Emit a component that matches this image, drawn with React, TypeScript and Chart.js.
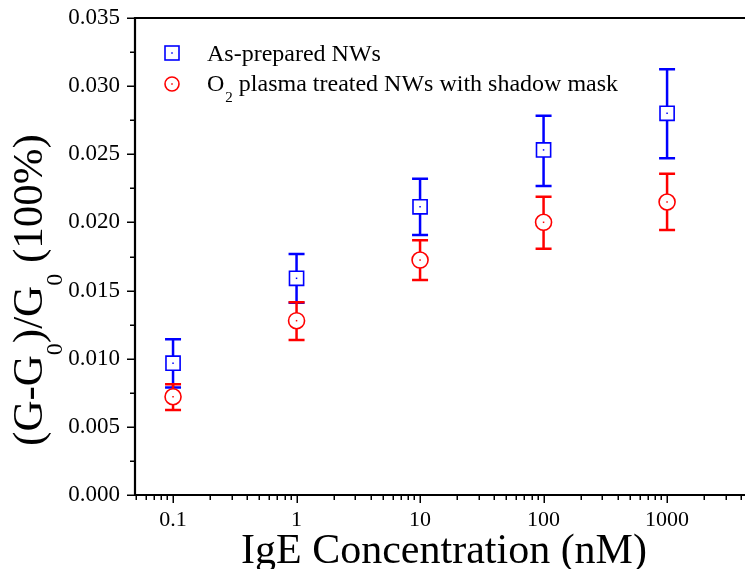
import React, { useEffect, useRef } from "react";
import { Chart, registerables } from "chart.js";

Chart.register(...registerables);

// ---- data ----
const concentrations = [0.1, 1, 10, 100, 1000];

const asPreparedLabel = "As-prepared NWs";
const asPrepared = [0.00967, 0.0159, 0.02115, 0.02532, 0.02801];
const asPreparedHigh = [0.01143, 0.01768, 0.0232, 0.02783, 0.03124];
const asPreparedLow = [0.00788, 0.01411, 0.01908, 0.02267, 0.02471];

const plasmaLabelMain = "O";
const plasmaLabelSub = "2";
const plasmaLabelRest = " plasma treated NWs with shadow mask";
const plasma = [0.00721, 0.01279, 0.01724, 0.02001, 0.0215];
const plasmaHigh = [0.00812, 0.01414, 0.01869, 0.02189, 0.02358];
const plasmaLow = [0.00624, 0.01137, 0.01578, 0.01807, 0.01945];

const xTickValues = [0.1, 1, 10, 100, 1000];
const xMin = 0.0492;
const xMax = 4275;
const yMin = 0;
const yMax = 0.035;
const yStep = 0.005;
const yMinorStep = 0.0025;

const xTitle = "IgE Concentration (nM)";
const yTitleParts: { t: string; sub: boolean }[] = [
  { t: "(G-G", sub: false },
  { t: "0", sub: true },
  { t: ")/G", sub: false },
  { t: "0", sub: true },
  { t: " (100%)", sub: false },
];

const BLUE = "#0000ff";
const RED = "#ff0000";
const FONT = "'Liberation Serif', 'Times New Roman', serif";

function drawErrorBars(chart: any, xs: number[], lo: number[], hi: number[], color: string) {
  const ctx = chart.ctx;
  const xs_ = chart.scales.x;
  const ys_ = chart.scales.y;
  ctx.save();
  ctx.strokeStyle = color;
  ctx.lineWidth = 2.5;
  const cap = 8;
  for (let i = 0; i < xs.length; i++) {
    const px = xs_.getPixelForValue(xs[i]);
    const pyL = ys_.getPixelForValue(lo[i]);
    const pyH = ys_.getPixelForValue(hi[i]);
    ctx.beginPath();
    ctx.moveTo(px, pyL);
    ctx.lineTo(px, pyH);
    ctx.moveTo(px - cap, pyL);
    ctx.lineTo(px + cap, pyL);
    ctx.moveTo(px - cap, pyH);
    ctx.lineTo(px + cap, pyH);
    ctx.stroke();
  }
  ctx.restore();
}

const customPlugin = {
  id: "customDecor",
  beforeDatasetsDraw(chart: any) {
    drawErrorBars(chart, concentrations, asPreparedLow, asPreparedHigh, BLUE);
    drawErrorBars(chart, concentrations, plasmaLow, plasmaHigh, RED);
  },
  afterDatasetsDraw(chart: any) {
    const ctx = chart.ctx;
    const sx = chart.scales.x;
    const sy = chart.scales.y;
    ctx.save();
    for (let i = 0; i < concentrations.length; i++) {
      const px = sx.getPixelForValue(concentrations[i]);
      ctx.fillStyle = BLUE;
      ctx.fillRect(px - 0.75, sy.getPixelForValue(asPrepared[i]) - 0.75, 1.5, 1.5);
      ctx.fillStyle = RED;
      ctx.fillRect(px - 0.75, sy.getPixelForValue(plasma[i]) - 0.75, 1.5, 1.5);
    }
    ctx.restore();
  },
  afterDraw(chart: any) {
    const ctx = chart.ctx;
    const area = chart.chartArea;
    const sx = chart.scales.x;
    const sy = chart.scales.y;
    ctx.save();
    // axes frame
    ctx.strokeStyle = "#000";
    ctx.lineWidth = 2.2;
    ctx.beginPath();
    ctx.moveTo(area.left, area.top);
    ctx.lineTo(area.right + 2, area.top);
    ctx.moveTo(area.left, area.top - 1);
    ctx.lineTo(area.left, area.bottom + 1);
    ctx.moveTo(area.left - 1, area.bottom);
    ctx.lineTo(area.right + 2, area.bottom);
    ctx.stroke();

    // y ticks
    ctx.lineWidth = 1.5;
    ctx.beginPath();
    const nY = Math.round((yMax - yMin) / yMinorStep);
    for (let k = 0; k <= nY; k++) {
      const v = yMin + k * yMinorStep;
      const py = Math.round(sy.getPixelForValue(v)) + 0.25;
      const len = k % 2 === 0 ? 8 : 5;
      ctx.moveTo(area.left, py);
      ctx.lineTo(area.left - len, py);
    }
    // x ticks
    for (let e = -2; e <= 4; e++) {
      for (let m = 1; m <= 9; m++) {
        const v = m * Math.pow(10, e);
        if (v < xMin || v > xMax) continue;
        const px = Math.round(sx.getPixelForValue(v)) + 0.25;
        const len = m === 1 ? 8 : 5;
        ctx.moveTo(px, area.bottom);
        ctx.lineTo(px, area.bottom + len);
      }
    }
    ctx.stroke();

    // x title
    ctx.fillStyle = "#000";
    ctx.font = `42px ${FONT}`;
    ctx.textAlign = "center";
    ctx.textBaseline = "alphabetic";
    ctx.fillText(xTitle, 444, 563);

    // y title (rotated with subscripts)
    ctx.save();
    ctx.translate(42, 290);
    ctx.rotate(-Math.PI / 2);
    ctx.textAlign = "left";
    const mainFont = `43px ${FONT}`;
    const subFont = `24px ${FONT}`;
    let total = 0;
    for (const p of yTitleParts) {
      ctx.font = p.sub ? subFont : mainFont;
      total += ctx.measureText(p.t).width;
    }
    let cx = -total / 2;
    for (const p of yTitleParts) {
      ctx.font = p.sub ? subFont : mainFont;
      ctx.fillText(p.t, cx, p.sub ? 20 : 0);
      cx += ctx.measureText(p.t).width;
    }
    ctx.restore();

    // legend
    const lx = 172;
    ctx.strokeStyle = BLUE;
    ctx.lineWidth = 1.6;
    ctx.fillStyle = "#fff";
    ctx.fillRect(lx - 7, 53 - 7, 14, 14);
    ctx.strokeRect(lx - 7, 53 - 7, 14, 14);
    ctx.fillStyle = BLUE;
    ctx.fillRect(lx - 0.75, 53 - 0.75, 1.5, 1.5);
    ctx.strokeStyle = RED;
    ctx.beginPath();
    ctx.arc(lx, 84, 7, 0, Math.PI * 2);
    ctx.stroke();
    ctx.fillStyle = RED;
    ctx.fillRect(lx - 0.75, 84 - 0.75, 1.5, 1.5);

    ctx.fillStyle = "#000";
    ctx.textAlign = "left";
    ctx.font = `24px ${FONT}`;
    ctx.fillText(asPreparedLabel, 207, 60.5);
    ctx.fillText(plasmaLabelMain, 207, 91);
    let tx = 207 + ctx.measureText(plasmaLabelMain).width;
    ctx.font = `15px ${FONT}`;
    ctx.fillText(plasmaLabelSub, tx + 1, 101.5);
    tx += ctx.measureText(plasmaLabelSub).width + 1;
    ctx.font = `24px ${FONT}`;
    ctx.fillText(plasmaLabelRest, tx, 91);
    ctx.restore();
  },
};

export default function App() {
  const ref = useRef<HTMLCanvasElement | null>(null);
  useEffect(() => {
    if (!ref.current) return;
    const chart = new Chart(ref.current, {
      type: "scatter",
      data: {
        datasets: [
          {
            label: asPreparedLabel,
            data: concentrations.map((x, i) => ({ x, y: asPrepared[i] })),
            pointStyle: "rect",
            pointRadius: 10,
            pointHoverRadius: 10,
            borderColor: BLUE,
            backgroundColor: "#ffffff",
            pointBorderWidth: 1.6,
            showLine: false,
          },
          {
            label: plasmaLabelMain + plasmaLabelSub + plasmaLabelRest,
            data: concentrations.map((x, i) => ({ x, y: plasma[i] })),
            pointStyle: "circle",
            pointRadius: 8,
            pointHoverRadius: 8,
            borderColor: RED,
            backgroundColor: "#ffffff",
            pointBorderWidth: 1.6,
            showLine: false,
          },
        ],
      },
      options: {
        responsive: false,
        animation: false,
        devicePixelRatio: 1,
        events: [],
        layout: { autoPadding: false, padding: { top: 18, right: 0, left: 0, bottom: 0 } },
        plugins: { legend: { display: false }, tooltip: { enabled: false } },
        scales: {
          x: {
            type: "logarithmic",
            min: xMin,
            max: xMax,
            grid: { display: false, drawTicks: false },
            border: { display: false },
            ticks: {
              color: "#000",
              font: { family: FONT, size: 22 },
              padding: 12,
              autoSkip: false,
              maxRotation: 0,
              callback: (v: any) => String(v),
            },
            afterBuildTicks: (s: any) => {
              s.ticks = xTickValues.map((v) => ({ value: v }));
            },
            afterFit: (s: any) => {
              s.height = 74;
              s.paddingLeft = 0;
              s.paddingRight = 0;
            },
          },
          y: {
            min: yMin,
            max: yMax,
            grid: { display: false, drawTicks: false },
            border: { display: false },
            ticks: {
              stepSize: yStep,
              color: "#000",
              font: { family: FONT, size: 23 },
              padding: 15,
              callback: (v: any) => Number(v).toFixed(3),
            },
            afterFit: (s: any) => {
              s.width = 135;
              s.paddingTop = 0;
              s.paddingBottom = 0;
            },
          },
        },
      },
      plugins: [customPlugin],
    } as any);
    return () => chart.destroy();
  }, []);
  return (
    <canvas
      ref={ref}
      width={745}
      height={569}
      style={{ position: "fixed", left: 0, top: 0, background: "#fff" }}
    />
  );
}
